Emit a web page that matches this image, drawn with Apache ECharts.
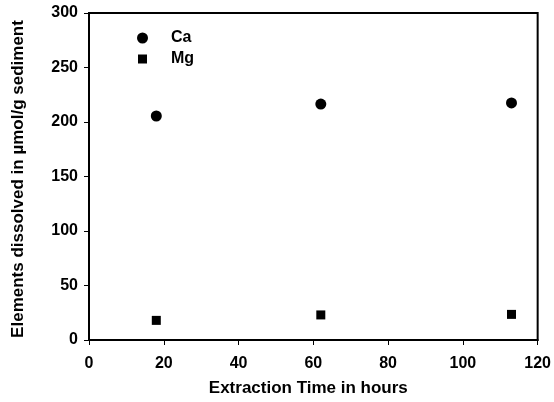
<!DOCTYPE html>
<html><head><meta charset="utf-8">
<script src="https://cdn.jsdelivr.net/npm/echarts@6/dist/echarts.min.js"></script>
<style>html,body{margin:0;padding:0;background:#fff}#c{width:554px;height:402px}</style>
</head><body><div id="c"></div>
<script>
const hours = [18, 62, 113];
const caValues = [205.5, 216.5, 217.5];
const mgValues = [18, 23, 23.5];
const xTicks = [0, 20, 40, 60, 80, 100, 120];
const yTicks = [0, 50, 100, 150, 200, 250, 300];

const chart = echarts.init(document.getElementById('c'));
const font = 'Liberation Sans, Arial, sans-serif';
const legendText = {fontFamily: font, fontWeight: 'bold', fontSize: 16, color: '#000'};
chart.setOption({
  animation: false,
  backgroundColor: '#fff',
  grid: {left: 89, right: 15, top: 13, bottom: 57, show: true, borderColor: '#000', borderWidth: 2},
  legend: [
    {left: 132, top: 25, itemWidth: 11, itemHeight: 11,
     textStyle: Object.assign({padding: [0, 0, 0, 18]}, legendText),
     data: [{name: 'Ca', icon: 'circle'}]},
    {left: 133, top: 46, itemWidth: 9, itemHeight: 9,
     textStyle: Object.assign({padding: [0, 0, 0, 19]}, legendText),
     data: [{name: 'Mg', icon: 'rect'}]}
  ],
  xAxis: {
    type: 'value', min: xTicks[0], max: xTicks[xTicks.length - 1], interval: 20,
    name: 'Extraction Time in hours', nameLocation: 'middle', nameGap: 40,
    nameTextStyle: {fontFamily: font, fontWeight: 'bold', fontSize: 17, color: '#000', padding: [0, 10, 0, 0]},
    axisLine: {lineStyle: {color: '#000', width: 2}},
    axisTick: {show: true, length: 5, lineStyle: {color: '#000', width: 1}},
    axisLabel: {fontFamily: font, fontWeight: 'bold', fontSize: 16, color: '#000', margin: 16},
    splitLine: {show: false}
  },
  yAxis: {
    type: 'value', min: yTicks[0], max: yTicks[yTicks.length - 1], interval: 50,
    name: 'Elements dissolved in µmol/g sediment', nameLocation: 'middle', nameGap: 62,
    nameTextStyle: {fontFamily: font, fontWeight: 'bold', fontSize: 17, color: '#000', padding: [0, 5, 0, 0]},
    axisLine: {lineStyle: {color: '#000', width: 2}},
    axisTick: {show: true, length: 5, lineStyle: {color: '#000', width: 1}},
    axisLabel: {fontFamily: font, fontWeight: 'bold', fontSize: 16, color: '#000', margin: 11, padding: [5, 0, 0, 0]},
    splitLine: {show: false}
  },
  series: [
    {name: 'Ca', type: 'scatter', symbol: 'circle', symbolSize: 11,
     itemStyle: {color: '#000', opacity: 1}, data: hours.map((h, i) => [h, caValues[i]])},
    {name: 'Mg', type: 'scatter', symbol: 'rect', symbolSize: 9,
     itemStyle: {color: '#000', opacity: 1}, data: hours.map((h, i) => [h, mgValues[i]])}
  ]
});
</script></body></html>
